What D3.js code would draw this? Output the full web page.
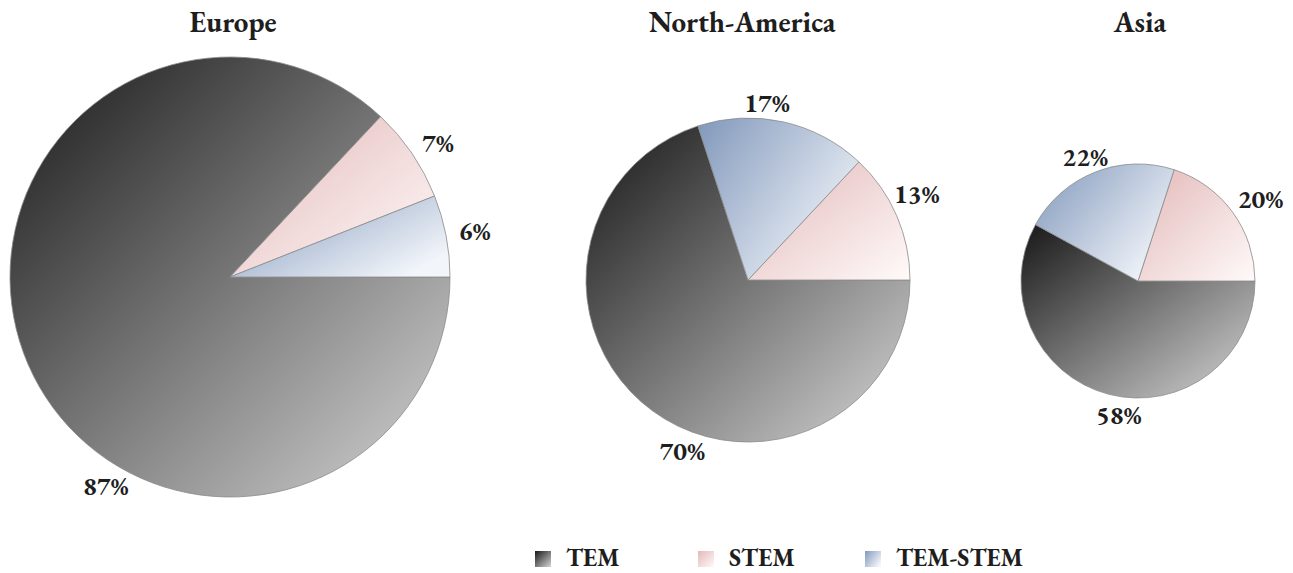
<!DOCTYPE html>
<html>
<head>
<meta charset="utf-8">
<script src="https://cdn.jsdelivr.net/npm/d3@7"></script>
<style>
  body { margin: 0; background: #fff; }
  text { font-family: "EB Garamond", "Liberation Serif", serif; font-weight: bold; fill: #1e1e1e; }
</style>
</head>
<body>
<div id="plot"></div>
<script>
// data
const regions = ["Europe", "North-America", "Asia"];
const categories = ["TEM", "STEM", "TEM-STEM"];
const temValues = [87, 70, 58];
const stemValues = [7, 13, 20];
const temStemValues = [6, 17, 22];

const w = 1293;
const h = 573;

// layout of each pie (centre x/y, radius)
const pieLayout = [
  {cx: 230, cy: 277, r: 220, titleX: 233},
  {cx: 748, cy: 280, r: 162, titleX: 742},
  {cx: 1138, cy: 281, r: 117, titleX: 1140}
];
// label placement per region, in category order (TEM, STEM, TEM-STEM):
// fraction along the slice's arc, and gap outside the rim
const labelFrac = [[0.615, 0.44, 0.49], [0.56, 0.57, 0.605], [0.53, 0.464, 0.52]];
const labelGap = [[24, 27, 29], [22, 27, 15], [19, 30, 17]];

const svg = d3.select("div#plot")
    .append("svg")
    .attr("width", w)
    .attr("height", h);

const defs = svg.append("defs");

function gradient(id, c0, c1, x2, y2) {
  const g = defs.append("linearGradient")
      .attr("id", id)
      .attr("x1", 0).attr("y1", 0)
      .attr("x2", x2).attr("y2", y2);
  g.append("stop").attr("offset", "0%").attr("stop-color", c0);
  g.append("stop").attr("offset", "100%").attr("stop-color", c1);
}
gradient("g-TEM", "#171717", "#d6d6d6", 1, 1);
gradient("g-STEM", "#e3b8b8", "#fffafa", 1, 1);
gradient("g-TEM-STEM", "#8198bb", "#f2f5fa", 1, 0.7);

const color = d3.scaleOrdinal()
    .domain(categories)
    .range(categories.map(c => `url(#g-${c})`));

// pie starts at 3 o'clock and runs counter-clockwise, smallest first
const pie = d3.pie()
    .value(d => d.value)
    .sort((a, b) => a.value - b.value)
    .startAngle(Math.PI / 2)
    .endAngle(Math.PI / 2 - 2 * Math.PI);

regions.forEach((region, i) => {
  const L = pieLayout[i];
  const data = [
    {cat: "TEM", value: temValues[i]},
    {cat: "STEM", value: stemValues[i]},
    {cat: "TEM-STEM", value: temStemValues[i]}
  ];
  const arcs = pie(data);
  const arc = d3.arc().innerRadius(0).outerRadius(L.r);

  const g = svg.append("g")
      .attr("transform", `translate(${L.cx},${L.cy})`);

  g.selectAll("path")
    .data(arcs)
    .enter().append("path")
      .attr("d", arc)
      .attr("fill", d => color(d.data.cat))
      .attr("stroke", "#8a8a8a")
      .attr("stroke-width", 0.8);

  g.selectAll("text.lbl")
    .data(arcs)
    .enter().append("text")
      .attr("class", "lbl")
      .attr("text-anchor", "middle")
      .attr("dy", "0.32em")
      .style("font-size", "26px")
      .attr("transform", d => {
        const k = categories.indexOf(d.data.cat);
        const a = d.startAngle + (d.endAngle - d.startAngle) * labelFrac[i][k];
        const rr = L.r + labelGap[i][k];
        return `translate(${rr * Math.sin(a)},${-rr * Math.cos(a)})`;
      })
      .text(d => d.value + "%");

  svg.append("text")
      .attr("x", L.titleX)
      .attr("y", 32)
      .attr("text-anchor", "middle")
      .style("font-size", "29px")
      .text(region);
});

// legend
const legendX = [535, 698, 865];
const legend = svg.append("g").attr("transform", "translate(0,551)");
categories.forEach((c, i) => {
  legend.append("rect")
      .attr("x", legendX[i])
      .attr("y", 0)
      .attr("width", 16)
      .attr("height", 16)
      .attr("fill", color(c));
  legend.append("text")
      .attr("x", legendX[i] + 31)
      .attr("y", 15)
      .style("font-size", "24.5px")
      .text(c);
});
</script>
</body>
</html>
